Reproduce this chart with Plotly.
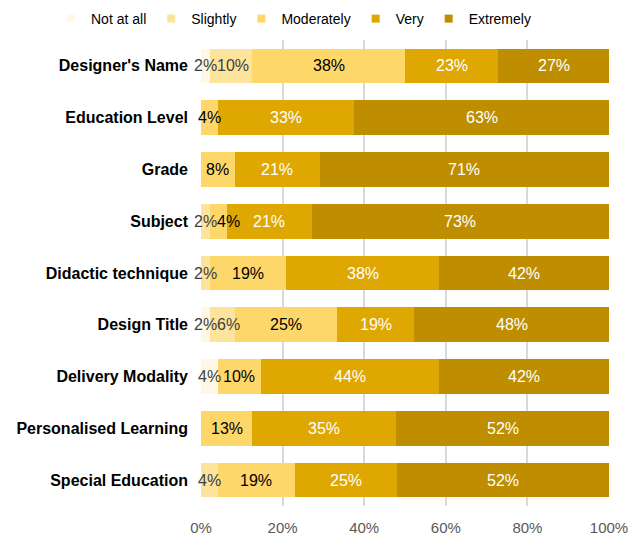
import plotly.graph_objects as go

categories = ["Designer's Name", "Education Level", "Grade", "Subject",
              "Didactic technique", "Design Title", "Delivery Modality",
              "Personalised Learning", "Special Education"]
levels = ["Not at all", "Slightly", "Moderately", "Very", "Extremely"]

# percentages per level, one value per category (top to bottom)
not_at_all = [2.1, 0, 0, 0, 0, 2.1, 4.2, 0, 0]
slightly   = [10.4, 0, 0, 2.1, 2.1, 6.3, 0, 0, 4.2]
moderately = [37.5, 4.2, 8.3, 4.2, 18.8, 25.0, 10.4, 12.5, 18.8]
very       = [22.9, 33.3, 20.8, 20.8, 37.5, 18.8, 43.8, 35.4, 25.0]
extremely  = [27.1, 62.5, 70.8, 72.9, 41.7, 47.9, 41.7, 52.1, 52.1]

series = [not_at_all, slightly, moderately, very, extremely]
colors = ["#FFF8E6", "#FDE49C", "#FED76A", "#DEA701", "#BE8E00"]
text_colors = ["#404040", "#404040", "#000000", "#FFFFFF", "#FFFFFF"]

x_ticks = [0, 20, 40, 60, 80, 100]
x_tick_labels = [f"{v}%" for v in x_ticks]

FONT = "Liberation Sans, Arial, sans-serif"
LABEL_SIZE = 16
PLOT_W_PX = 408.0  # plot area width in pixels for 0..100


def text_width_px(s):
    w = 0.0
    for ch in s:
        w += 0.889 if ch == "%" else 0.556
    return w * LABEL_SIZE


fig = go.Figure()
for name, vals, col in zip(levels, series, colors):
    fig.add_trace(go.Bar(
        y=categories, x=vals, name=name, orientation="h",
        marker=dict(color=col, line=dict(width=0)),
        width=0.67, showlegend=False, hoverinfo="x+y+name",
    ))

# segment value labels, centred on each segment (nudged right if they collide)
annotations = []
for ci, cat in enumerate(categories):
    cum = 0.0
    prev_right = -1e9
    for si, vals in enumerate(series):
        v = vals[ci]
        if v <= 0:
            continue
        txt = f"{int(v + 0.5)}%"
        centre_px = (cum + v / 2) / 100 * PLOT_W_PX
        half = text_width_px(txt) / 2
        if centre_px - half < prev_right:
            centre_px = prev_right + half
        prev_right = centre_px + half
        annotations.append(dict(
            x=centre_px / PLOT_W_PX * 100, y=cat, xref="x", yref="y",
            text=txt, showarrow=False, xanchor="center", yanchor="middle",
            font=dict(family=FONT, size=LABEL_SIZE, color=text_colors[si]),
        ))
        cum += v

# legend entries with small square swatches
for name, col in zip(levels, colors):
    fig.add_trace(go.Scatter(
        x=[None], y=[None], mode="markers", name=name,
        marker=dict(symbol="square", size=8, color=col, line=dict(width=0)),
        showlegend=True,
    ))

fig.update_layout(
    barmode="stack",
    width=643, height=536,
    margin=dict(l=201, r=34, t=40, b=30, autoexpand=False),
    paper_bgcolor="white", plot_bgcolor="white",
    font=dict(family=FONT, color="#000000"),
    annotations=annotations,
    legend=dict(orientation="h", traceorder="normal",
                x=(51 - 201) / 408, xanchor="left",
                y=1 + 21 / 466, yanchor="middle",
                font=dict(family=FONT, size=14, color="#000000"),
                itemsizing="trace", bgcolor="rgba(0,0,0,0)", tracegroupgap=0),
    xaxis=dict(range=[0, 100], tickvals=x_ticks, ticktext=x_tick_labels,
               showgrid=True, gridcolor="#D9D9D9", gridwidth=1.5,
               zeroline=False, showline=False, ticks="",
               ticklabelstandoff=11,
               tickfont=dict(family=FONT, size=15, color="#595959"),
               fixedrange=True),
    yaxis=dict(categoryorder="array", categoryarray=categories,
               autorange="reversed", showgrid=False, zeroline=False,
               showline=False, ticks="", ticklabelstandoff=12,
               tickfont=dict(family=FONT, size=16, color="#000000",
                             weight="bold"),
               fixedrange=True),
)

fig.write_html("out.html")
